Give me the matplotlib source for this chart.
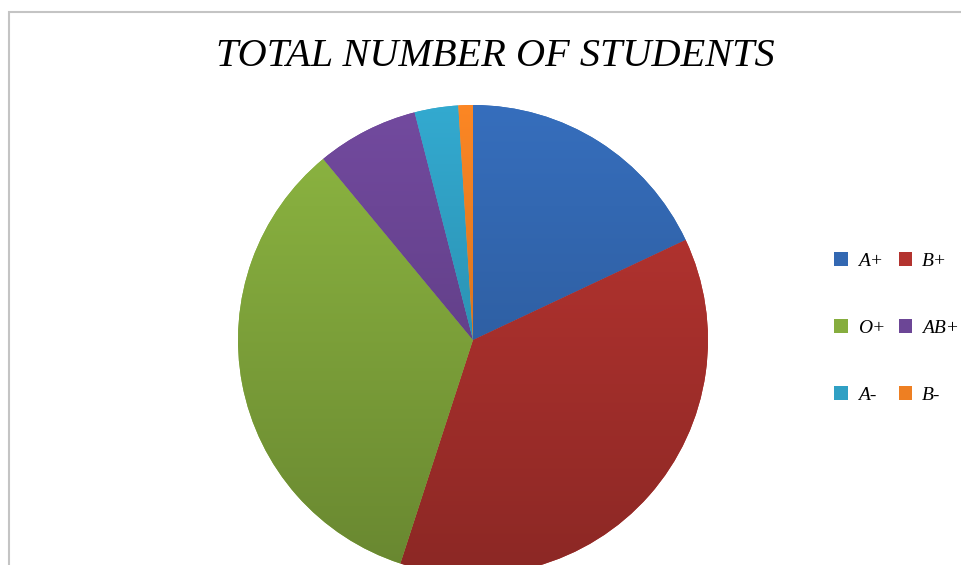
import numpy as np
import matplotlib.pyplot as plt
from matplotlib.patches import Rectangle
from matplotlib.colors import to_rgb

# blood groups and student counts
groups = ["A+", "B+", "O+", "AB+", "A-", "B-"]
students = [18, 37, 34, 7, 3, 1]
colors = ["#3368b2", "#b3332f", "#86ad3e", "#6c4696", "#30a0c4", "#ee7f22"]

fig = plt.figure(figsize=(9.62, 5.65), dpi=100)
fig.patch.set_facecolor("white")

# thin grey frame around the chart area
fig.add_artist(Rectangle((9 / 962, -0.1), 1.2, 1 - 12 / 565 + 0.1,
                         transform=fig.transFigure, fill=False,
                         edgecolor="#c4c4c4", linewidth=1.5))

W, H = 962, 565
cx, cy, r = 473, 340, 235
ax = fig.add_axes([(cx - r) / W, (H - cy - r) / H, 2 * r / W, 2 * r / H])

wedges, _ = ax.pie(students, colors=colors, startangle=90, counterclock=False,
                   radius=1, wedgeprops=dict(linewidth=0))

# vertical shading inside each slice, lighter on top, darker at the bottom
t = np.linspace(0, 1, 256)[:, None]
for w, c in zip(wedges, colors):
    base = np.array(to_rgb(c))
    top = np.clip(base * 1.06, 0, 1)
    bot = base * 0.78
    grad = top[None, None, :] * (1 - t[..., None]) + bot[None, None, :] * t[..., None]
    grad = np.repeat(grad, 2, axis=1)
    im = ax.imshow(grad, extent=(-1, 1, -1, 1), aspect="auto", zorder=w.get_zorder() + 0.1,
                   interpolation="bilinear")
    im.set_clip_path(w)

ax.set_xlim(-1, 1)
ax.set_ylim(-1, 1)
ax.axis("off")

fig.text(495 / W, 1 - 57 / H, "TOTAL NUMBER OF STUDENTS", ha="center", va="center",
         fontsize=29, style="italic", family="Liberation Serif")

# legend: two columns, rows A+/B+, O+/AB+, A-/B-
order = [0, 2, 4, 1, 3, 5]
handles = [Rectangle((0, 0), 1, 1, facecolor=colors[i]) for i in order]
labels = [groups[i] for i in order]
leg = fig.legend(handles, labels, ncol=2, loc="center left",
                 bbox_to_anchor=(817 / W, 1 - 328 / H), frameon=False,
                 prop=dict(family="Liberation Serif", style="italic", size=14),
                 handlelength=0.7, handleheight=0.7, handletextpad=0.5,
                 columnspacing=0.7, labelspacing=2.55)

fig.savefig("out.png", dpi=100)
